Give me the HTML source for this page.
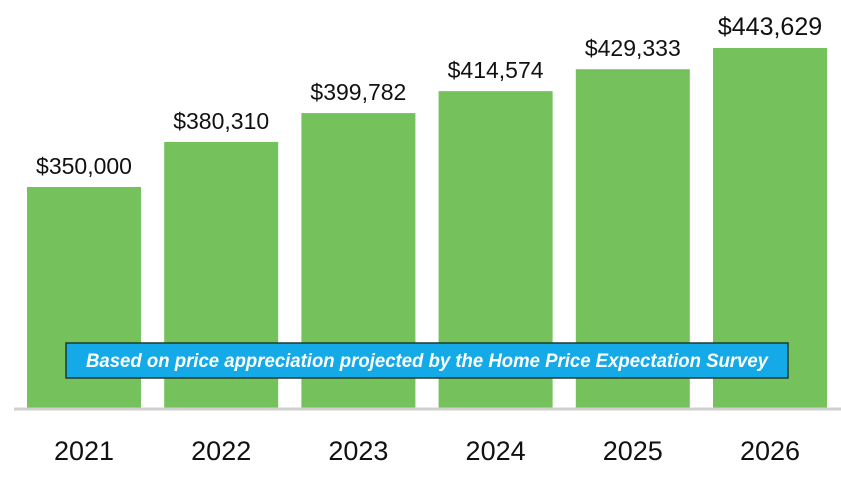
<!DOCTYPE html>
<html><head><meta charset="utf-8"><style>
html,body{margin:0;padding:0;background:#fff;}
svg{display:block;font-family:"Liberation Sans",Carlito,sans-serif;}
</style></head><body>
<svg id="chart" width="841" height="483"></svg>
<script>
const categories=["2021","2022","2023","2024","2025","2026"];
const values=[350000,380310,399782,414574,429333,443629];
const valueLabels=["$350,000","$380,310","$399,782","$414,574","$429,333","$443,629"];
const svg=document.getElementById('chart');
const NS='http://www.w3.org/2000/svg';
const x0=27,step=137.2,bw=114,base=408,yMin=201140,pxPer=0.0014846;
function y(v){return base-(v-yMin)*pxPer;}
function mk(t,a){const e=document.createElementNS(NS,t);for(const k in a)e.setAttribute(k,a[k]);svg.appendChild(e);return e;}
categories.forEach((c,i)=>{
  const bx=x0+i*step, top=y(values[i]);
  const r=mk('rect',{x:bx,y:top,width:bw,height:base-top,fill:'#75c15b'});
  
  
  const t=mk('text',{x:bx+bw/2,y:top-13,'text-anchor':'middle','font-size':i==5?25:23,fill:'#111'});
  t.textContent=valueLabels[i];
  
  
  const xl=mk('text',{x:bx+bw/2,y:460,'text-anchor':'middle','font-size':27,fill:'#111'});
  xl.textContent=c;
  
  
});
const ax=mk('line',{x1:14,x2:841,y1:409,y2:409,stroke:'#d0d0d0','stroke-width':3});


const g=mk('g',{});


const b=document.createElementNS(NS,'rect');
b.setAttribute('x',66);b.setAttribute('y',343);b.setAttribute('width',722);b.setAttribute('height',35);
b.setAttribute('fill','#14aae8');b.setAttribute('stroke','#1f3a2a');b.setAttribute('stroke-width',1.5);
g.appendChild(b);
const bt=document.createElementNS(NS,'text');
bt.setAttribute('x',427);bt.setAttribute('y',367);bt.setAttribute('text-anchor','middle');
bt.setAttribute('font-size',19);bt.setAttribute('font-style','italic');bt.setAttribute('font-weight','bold');bt.setAttribute('fill','#fff');
bt.setAttribute('textLength',682);bt.setAttribute('lengthAdjust','spacingAndGlyphs');
bt.textContent='Based on price appreciation projected by the Home Price Expectation Survey';


g.appendChild(bt);
</script>
</body></html>
